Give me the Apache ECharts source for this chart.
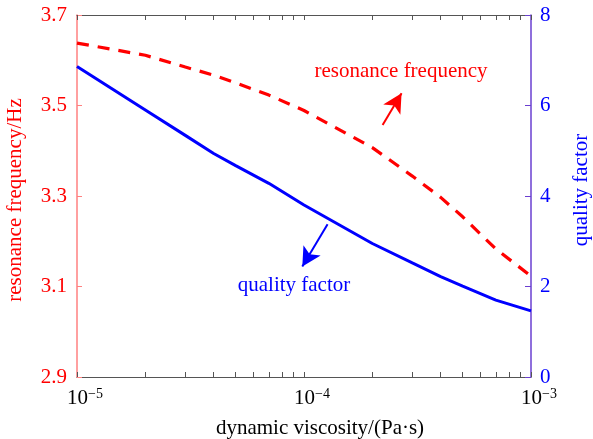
<!DOCTYPE html>
<html>
<head>
<meta charset="utf-8">
<script src="https://cdn.jsdelivr.net/npm/echarts@6/dist/echarts.min.js"></script>
<style>html,body{margin:0;padding:0;background:#fff;}#c{width:593px;height:439px;}</style>
</head>
<body>
<div id="c"></div>
<script>
const viscosity = [1e-5, 2e-5, 3e-5, 4e-5, 5e-5, 7e-5, 1e-4, 2e-4, 3e-4, 4e-4, 5e-4, 7e-4, 1e-3];
const resonanceFreq = [3.638, 3.611, 3.585, 3.567, 3.550, 3.523, 3.489, 3.407, 3.344, 3.297, 3.254, 3.183, 3.123];
const qualityFactor = [6.86, 5.90, 5.34, 4.94, 4.67, 4.28, 3.80, 2.95, 2.52, 2.22, 2.01, 1.70, 1.46];
const xMajorTicks = [1e-5, 1e-4, 1e-3];
const xMinorTicks = [1e-5,2e-5,3e-5,4e-5,5e-5,6e-5,7e-5,8e-5,9e-5,1e-4,2e-4,3e-4,4e-4,5e-4,6e-4,7e-4,8e-4,9e-4,1e-3];
const leftTicks = [2.9, 3.1, 3.3, 3.5, 3.7];
const rightTicks = [0, 2, 4, 6, 8];
const freqArrow = [[2.22e-4, 3.457], [2.69e-4, 3.527]];
const qArrow = [[1.27e-4, 3.375], [9.83e-5, 2.44]];

const FONT = '"Liberation Serif", "Times New Roman", serif';
const chart = echarts.init(document.getElementById('c'), null, {renderer: 'canvas'});

const xBase = {
  type: 'log', logBase: 10, min: 1e-5, max: 1e-3, gridIndex: 0,
  splitLine: {show: false},
  axisLine: {onZero: false, lineStyle: {color: '#555', width: 1}},
  axisTick: {inside: true, length: 5, customValues: xMinorTicks, lineStyle: {color: '#555'}}
};

chart.setOption({
  animation: false,
  grid: {left: 77, right: 62, top: 15, bottom: 62},
  xAxis: [
    Object.assign({}, xBase, {
      position: 'bottom',
      axisLabel: {
        customValues: xMajorTicks,
        margin: 10,
        formatter: function (v) {
          const e = Math.round(Math.log10(v));
          return '{pad|}{b|10}{sup|\u2212' + Math.abs(e) + '}';
        },
        rich: {
          pad: {width: 16},
          b: {fontSize: 21, fontFamily: FONT, color: '#000', lineHeight: 22},
          sup: {fontSize: 14, fontFamily: FONT, color: '#000', verticalAlign: 'top', lineHeight: 14}
        }
      }
    }),
    Object.assign({}, xBase, {position: 'top', axisLabel: {show: false}})
  ],
  yAxis: [
    {
      type: 'value', min: 2.9, max: 3.7, position: 'left',
      splitLine: {show: false},
      axisLine: {show: true, onZero: false, lineStyle: {color: '#ff8080', width: 1.5}},
      axisTick: {show: true, inside: true, length: 5, customValues: leftTicks, lineStyle: {color: '#ff8080'}},
      axisLabel: {customValues: leftTicks, margin: 10, color: '#ff0000', fontSize: 21, fontFamily: FONT,
        formatter: v => v.toFixed(1)}
    },
    {
      type: 'value', min: 0, max: 8, interval: 2, position: 'right',
      splitLine: {show: false},
      axisLine: {show: true, onZero: false, lineStyle: {color: '#6a3fd0', width: 1.5}},
      axisTick: {show: true, inside: true, length: 6, lineStyle: {color: '#6a3fd0'}},
      axisLabel: {customValues: rightTicks, margin: 9, color: '#0000ff', fontSize: 21, fontFamily: FONT}
    }
  ],
  series: [
    {
      name: 'resonance frequency', type: 'line', xAxisIndex: 0, yAxisIndex: 0,
      data: viscosity.map((x, i) => [x, resonanceFreq[i]]),
      showSymbol: false, smooth: false,
      lineStyle: {color: '#ff0000', width: 3.2, type: [12, 9]},
      markLine: {
        silent: true, symbol: ['none', 'arrow'], symbolSize: [15, 19],
        label: {show: false},
        lineStyle: {color: '#ff0000', width: 2, type: 'solid'},
        data: [[{coord: freqArrow[0]}, {coord: freqArrow[1]}]]
      }
    },
    {
      name: 'quality factor', type: 'line', xAxisIndex: 0, yAxisIndex: 1,
      data: viscosity.map((x, i) => [x, qualityFactor[i]]),
      showSymbol: false, smooth: false,
      lineStyle: {color: '#0000ff', width: 3},
      markLine: {
        silent: true, symbol: ['none', 'arrow'], symbolSize: [15, 19],
        label: {show: false},
        lineStyle: {color: '#0000ff', width: 2, type: 'solid'},
        data: [[{coord: qArrow[0]}, {coord: qArrow[1]}]]
      }
    }
  ],
  graphic: [
    {type: 'text', x: 15, y: 200, rotation: Math.PI / 2,
      style: {text: 'resonance frequency/Hz', fill: '#ff0000', font: '21px ' + FONT, textAlign: 'center', textVerticalAlign: 'middle'}},
    {type: 'text', x: 581, y: 190, rotation: Math.PI / 2,
      style: {text: 'quality factor', fill: '#0000ff', font: '21px ' + FONT, textAlign: 'center', textVerticalAlign: 'middle'}},
    {type: 'text', x: 320, y: 428,
      style: {text: 'dynamic viscosity/(Pa\u00b7s)', fill: '#000', font: '21px ' + FONT, textAlign: 'center', textVerticalAlign: 'middle'}},
    {type: 'text', x: 401, y: 71,
      style: {text: 'resonance frequency', fill: '#ff0000', font: '21px ' + FONT, textAlign: 'center', textVerticalAlign: 'middle'}},
    {type: 'text', x: 294, y: 285,
      style: {text: 'quality factor', fill: '#0000ff', font: '21px ' + FONT, textAlign: 'center', textVerticalAlign: 'middle'}}
  ]
});
</script>
</body>
</html>
